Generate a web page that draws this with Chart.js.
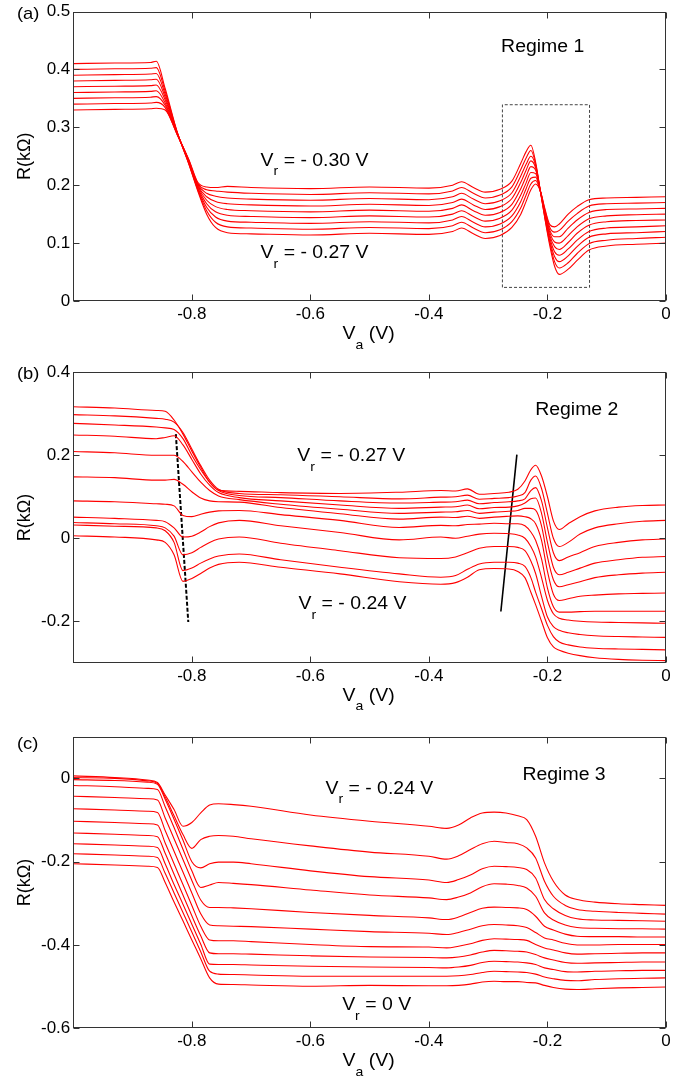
<!DOCTYPE html>
<html lang="en">

<head>
    <meta charset="UTF-8">
    <title>R vs Va - Regimes 1, 2, 3</title>
    <script src="https://cdn.jsdelivr.net/npm/chart.js"></script>
    <style>
        body {
            margin: 0;
            background: #fff;
        }

        .panel {
            position: absolute;
            left: 0;
            width: 693px;
        }
    </style>
</head>

<body>
    <div class="panel" style="top:0px;height:355px"><canvas id="chartA" width="693" height="355"></canvas></div>
    <div class="panel" style="top:355px;height:360px"><canvas id="chartB" width="693" height="360"></canvas></div>
    <div class="panel" style="top:715px;height:364px"><canvas id="chartC" width="693" height="364"></canvas></div>

    <script>
        // ---- shared axis ----
        const xTicks = [-0.8, -0.6, -0.4, -0.2, 0];

        // ---- panel (a), Regime 1 ----
        const xA = [-1, -0.93, -0.87, -0.86, -0.845, -0.825, -0.805, -0.79, -0.775, -0.76, -0.74, -0.7, -0.6, -0.5, -0.4, -0.36, -0.345, -0.325, -0.305, -0.28, -0.26, -0.245, -0.236, -0.228, -0.22, -0.212, -0.204, -0.196, -0.188, -0.18, -0.165, -0.15, -0.13, -0.1, -0.05, 0];
        const yTicksA = [0, 0.1, 0.2, 0.3, 0.4, 0.5];
        const rA0 = [0.410, 0.411, 0.412, 0.414, 0.367, 0.293, 0.236, 0.190, 0.150, 0.127, 0.118, 0.116, 0.114, 0.117, 0.115, 0.120, 0.126, 0.116, 0.108, 0.113, 0.127, 0.150, 0.172, 0.192, 0.202, 0.190, 0.158, 0.132, 0.128, 0.133, 0.150, 0.163, 0.175, 0.178, 0.179, 0.180];
        const rA1 = [0.400, 0.401, 0.402, 0.403, 0.362, 0.292, 0.237, 0.192, 0.156, 0.136, 0.128, 0.126, 0.124, 0.127, 0.125, 0.130, 0.136, 0.126, 0.118, 0.123, 0.137, 0.161, 0.183, 0.202, 0.208, 0.190, 0.156, 0.127, 0.119, 0.122, 0.138, 0.151, 0.164, 0.168, 0.169, 0.170];
        const rA2 = [0.390, 0.391, 0.392, 0.393, 0.357, 0.292, 0.238, 0.194, 0.162, 0.145, 0.138, 0.136, 0.134, 0.137, 0.135, 0.140, 0.146, 0.136, 0.128, 0.133, 0.147, 0.172, 0.194, 0.212, 0.214, 0.190, 0.153, 0.122, 0.111, 0.111, 0.126, 0.140, 0.153, 0.158, 0.159, 0.160];
        const rA3 = [0.380, 0.381, 0.382, 0.383, 0.352, 0.291, 0.239, 0.196, 0.168, 0.154, 0.148, 0.146, 0.144, 0.147, 0.145, 0.150, 0.156, 0.146, 0.138, 0.143, 0.157, 0.183, 0.204, 0.222, 0.220, 0.190, 0.151, 0.118, 0.102, 0.100, 0.113, 0.128, 0.142, 0.147, 0.149, 0.150];
        const rA4 = [0.370, 0.371, 0.372, 0.373, 0.347, 0.291, 0.240, 0.198, 0.174, 0.163, 0.158, 0.156, 0.154, 0.157, 0.155, 0.160, 0.166, 0.156, 0.148, 0.153, 0.167, 0.194, 0.215, 0.232, 0.226, 0.190, 0.149, 0.113, 0.094, 0.089, 0.101, 0.117, 0.131, 0.137, 0.139, 0.140];
        const rA5 = [0.360, 0.361, 0.362, 0.363, 0.342, 0.290, 0.241, 0.199, 0.180, 0.172, 0.168, 0.166, 0.164, 0.167, 0.165, 0.170, 0.176, 0.166, 0.158, 0.163, 0.177, 0.205, 0.226, 0.242, 0.230, 0.190, 0.147, 0.109, 0.085, 0.079, 0.090, 0.105, 0.120, 0.126, 0.128, 0.130];
        const rA6 = [0.350, 0.351, 0.352, 0.353, 0.338, 0.289, 0.242, 0.201, 0.186, 0.181, 0.178, 0.176, 0.174, 0.177, 0.175, 0.180, 0.186, 0.176, 0.168, 0.173, 0.187, 0.216, 0.236, 0.250, 0.234, 0.190, 0.145, 0.104, 0.077, 0.068, 0.078, 0.094, 0.110, 0.116, 0.118, 0.120];
        const rA7 = [0.340, 0.341, 0.342, 0.343, 0.334, 0.288, 0.243, 0.203, 0.192, 0.190, 0.188, 0.186, 0.184, 0.187, 0.185, 0.190, 0.196, 0.186, 0.178, 0.183, 0.197, 0.227, 0.247, 0.260, 0.237, 0.190, 0.142, 0.100, 0.068, 0.057, 0.066, 0.082, 0.099, 0.105, 0.108, 0.110];
        const rA8 = [0.330, 0.331, 0.332, 0.333, 0.330, 0.288, 0.244, 0.205, 0.197, 0.196, 0.198, 0.196, 0.194, 0.197, 0.195, 0.200, 0.206, 0.196, 0.188, 0.193, 0.207, 0.238, 0.258, 0.269, 0.240, 0.190, 0.140, 0.095, 0.060, 0.046, 0.055, 0.070, 0.088, 0.095, 0.098, 0.100];
        // dashed box round the -0.2 V feature
        const boxAx = [-0.276, -0.276, -0.129, -0.129, -0.276];
        const boxAy = [0.0235, 0.339, 0.339, 0.0235, 0.0235];

        // ---- panel (b), Regime 2 ----
        const xB = [-1, -0.93, -0.86, -0.845, -0.83, -0.815, -0.8, -0.785, -0.77, -0.755, -0.72, -0.65, -0.55, -0.45, -0.38, -0.355, -0.335, -0.315, -0.29, -0.265, -0.25, -0.238, -0.228, -0.22, -0.21, -0.2, -0.19, -0.18, -0.165, -0.145, -0.12, -0.08, -0.04, 0];
        const yTicksB = [-0.2, 0, 0.2, 0.4];
        const rB0 = [0.317, 0.314, 0.308, 0.306, 0.285, 0.251, 0.210, 0.171, 0.135, 0.116, 0.113, 0.110, 0.108, 0.111, 0.115, 0.114, 0.119, 0.106, 0.108, 0.111, 0.118, 0.138, 0.165, 0.176, 0.150, 0.100, 0.042, 0.021, 0.035, 0.052, 0.066, 0.075, 0.079, 0.080];
        const rB1 = [0.298, 0.295, 0.289, 0.287, 0.280, 0.255, 0.215, 0.175, 0.140, 0.118, 0.108, 0.105, 0.100, 0.095, 0.099, 0.100, 0.104, 0.094, 0.096, 0.098, 0.102, 0.110, 0.140, 0.150, 0.120, 0.060, 0.000, -0.020, -0.010, 0.010, 0.025, 0.035, 0.041, 0.043];
        const rB2 = [0.277, 0.273, 0.268, 0.266, 0.262, 0.240, 0.200, 0.165, 0.135, 0.115, 0.103, 0.098, 0.090, 0.085, 0.087, 0.088, 0.092, 0.083, 0.086, 0.088, 0.090, 0.095, 0.115, 0.122, 0.090, 0.025, -0.035, -0.054, -0.045, -0.035, -0.020, -0.010, -0.004, -0.002];
        const rB3 = [0.249, 0.246, 0.240, 0.243, 0.247, 0.225, 0.190, 0.155, 0.128, 0.110, 0.098, 0.090, 0.080, 0.072, 0.075, 0.076, 0.080, 0.071, 0.074, 0.075, 0.078, 0.085, 0.095, 0.097, 0.060, -0.010, -0.070, -0.088, -0.082, -0.072, -0.060, -0.052, -0.046, -0.044];
        const rB4 = [0.209, 0.206, 0.200, 0.200, 0.200, 0.185, 0.160, 0.135, 0.115, 0.102, 0.093, 0.082, 0.070, 0.060, 0.063, 0.064, 0.067, 0.060, 0.063, 0.065, 0.067, 0.072, 0.072, 0.068, 0.030, -0.045, -0.100, -0.117, -0.112, -0.105, -0.095, -0.088, -0.084, -0.082];
        const rB5 = [0.148, 0.146, 0.140, 0.140, 0.142, 0.130, 0.112, 0.097, 0.090, 0.088, 0.087, 0.074, 0.059, 0.046, 0.051, 0.050, 0.053, 0.048, 0.051, 0.053, 0.054, 0.052, 0.047, 0.035, -0.005, -0.080, -0.135, -0.150, -0.146, -0.140, -0.137, -0.134, -0.133, -0.132];
        const rB6 = [0.090, 0.088, 0.083, 0.082, 0.078, 0.055, 0.052, 0.058, 0.063, 0.066, 0.067, 0.057, 0.043, 0.026, 0.031, 0.030, 0.033, 0.034, 0.036, 0.035, 0.035, 0.030, 0.015, -0.005, -0.050, -0.120, -0.165, -0.178, -0.178, -0.177, -0.176, -0.176, -0.176, -0.176];
        const rB7 = [0.051, 0.048, 0.043, 0.040, 0.025, 0.003, 0.005, 0.015, 0.028, 0.037, 0.043, 0.030, 0.014, -0.004, 0.003, 0.000, 0.005, 0.010, 0.012, 0.011, 0.008, 0.000, -0.020, -0.045, -0.095, -0.150, -0.182, -0.193, -0.197, -0.200, -0.202, -0.203, -0.204, -0.205];
        const rB8 = [0.038, 0.035, 0.030, 0.025, 0.005, -0.040, -0.035, -0.022, -0.010, -0.002, 0.003, -0.012, -0.030, -0.047, -0.049, -0.045, -0.035, -0.024, -0.020, -0.020, -0.022, -0.030, -0.055, -0.085, -0.140, -0.190, -0.213, -0.222, -0.228, -0.232, -0.235, -0.237, -0.238, -0.239];
        const rB9 = [0.032, 0.029, 0.025, 0.018, -0.010, -0.078, -0.072, -0.060, -0.050, -0.043, -0.038, -0.052, -0.070, -0.086, -0.094, -0.090, -0.075, -0.062, -0.058, -0.058, -0.060, -0.068, -0.095, -0.130, -0.170, -0.210, -0.237, -0.250, -0.257, -0.262, -0.265, -0.267, -0.268, -0.269];
        const rB10 = [0.006, 0.003, -0.004, -0.010, -0.040, -0.104, -0.097, -0.085, -0.072, -0.063, -0.058, -0.070, -0.086, -0.105, -0.111, -0.107, -0.094, -0.076, -0.073, -0.074, -0.080, -0.095, -0.130, -0.160, -0.200, -0.240, -0.262, -0.270, -0.277, -0.283, -0.288, -0.292, -0.294, -0.295];
        // guide lines through the dips (dashed) and the rise (solid)
        const dashBx = [-0.827, -0.806];
        const dashBy = [0.251, -0.202];
        const solidBx = [-0.2786, -0.2516];
        const solidBy = [-0.1766, 0.2017];

        // ---- panel (c), Regime 3 ----
        const xC = [-1, -0.93, -0.875, -0.858, -0.845, -0.83, -0.815, -0.8, -0.785, -0.77, -0.755, -0.73, -0.7, -0.6, -0.5, -0.4, -0.37, -0.35, -0.33, -0.31, -0.29, -0.27, -0.25, -0.235, -0.22, -0.205, -0.19, -0.17, -0.15, -0.12, -0.08, -0.04, 0];
        const yTicksC = [-0.6, -0.4, -0.2, 0];
        const rC0 = [0.006, 0.002, -0.004, -0.010, -0.040, -0.075, -0.115, -0.106, -0.083, -0.064, -0.061, -0.063, -0.067, -0.088, -0.103, -0.115, -0.120, -0.112, -0.095, -0.083, -0.081, -0.083, -0.090, -0.099, -0.139, -0.203, -0.247, -0.280, -0.291, -0.297, -0.301, -0.303, -0.305];
        const rC1 = [0.002, 0.000, -0.006, -0.012, -0.045, -0.090, -0.135, -0.168, -0.147, -0.139, -0.137, -0.139, -0.145, -0.162, -0.177, -0.187, -0.194, -0.186, -0.171, -0.157, -0.151, -0.154, -0.157, -0.167, -0.191, -0.247, -0.283, -0.305, -0.315, -0.319, -0.322, -0.324, -0.326];
        const rC2 = [-0.003, -0.005, -0.009, -0.014, -0.050, -0.098, -0.148, -0.200, -0.215, -0.205, -0.201, -0.201, -0.205, -0.222, -0.236, -0.244, -0.250, -0.243, -0.232, -0.217, -0.211, -0.212, -0.214, -0.219, -0.239, -0.291, -0.313, -0.329, -0.337, -0.340, -0.341, -0.342, -0.343];
        const rC3 = [-0.017, -0.020, -0.024, -0.027, -0.068, -0.118, -0.170, -0.222, -0.262, -0.256, -0.250, -0.252, -0.255, -0.268, -0.280, -0.287, -0.291, -0.285, -0.275, -0.260, -0.253, -0.254, -0.257, -0.263, -0.283, -0.323, -0.340, -0.352, -0.358, -0.360, -0.361, -0.361, -0.362];
        const rC4 = [-0.043, -0.046, -0.049, -0.052, -0.095, -0.145, -0.195, -0.245, -0.292, -0.310, -0.310, -0.311, -0.313, -0.322, -0.329, -0.335, -0.339, -0.333, -0.322, -0.312, -0.309, -0.310, -0.311, -0.315, -0.331, -0.355, -0.364, -0.374, -0.379, -0.380, -0.380, -0.381, -0.381];
        const rC5 = [-0.073, -0.076, -0.079, -0.082, -0.125, -0.175, -0.225, -0.275, -0.325, -0.352, -0.354, -0.355, -0.356, -0.362, -0.368, -0.372, -0.375, -0.370, -0.362, -0.354, -0.351, -0.352, -0.354, -0.358, -0.370, -0.383, -0.388, -0.396, -0.400, -0.400, -0.399, -0.399, -0.399];
        const rC6 = [-0.103, -0.106, -0.109, -0.112, -0.155, -0.205, -0.255, -0.305, -0.355, -0.388, -0.390, -0.390, -0.392, -0.399, -0.404, -0.405, -0.407, -0.403, -0.397, -0.389, -0.385, -0.386, -0.387, -0.389, -0.399, -0.407, -0.412, -0.419, -0.422, -0.421, -0.420, -0.419, -0.419];
        const rC7 = [-0.131, -0.134, -0.137, -0.140, -0.180, -0.230, -0.280, -0.330, -0.378, -0.419, -0.421, -0.421, -0.422, -0.426, -0.429, -0.430, -0.431, -0.429, -0.424, -0.417, -0.413, -0.414, -0.415, -0.417, -0.423, -0.431, -0.436, -0.442, -0.444, -0.443, -0.442, -0.441, -0.441];
        const rC8 = [-0.157, -0.160, -0.163, -0.166, -0.205, -0.255, -0.302, -0.350, -0.398, -0.446, -0.447, -0.447, -0.448, -0.451, -0.453, -0.454, -0.455, -0.453, -0.449, -0.442, -0.439, -0.440, -0.441, -0.443, -0.447, -0.455, -0.459, -0.464, -0.465, -0.463, -0.462, -0.461, -0.461];
        const rC9 = [-0.181, -0.184, -0.187, -0.190, -0.228, -0.275, -0.322, -0.369, -0.416, -0.463, -0.470, -0.471, -0.472, -0.475, -0.475, -0.475, -0.475, -0.474, -0.471, -0.466, -0.463, -0.464, -0.465, -0.466, -0.470, -0.477, -0.481, -0.485, -0.486, -0.483, -0.481, -0.480, -0.479];
        const rC10 = [-0.205, -0.208, -0.211, -0.214, -0.250, -0.297, -0.342, -0.388, -0.433, -0.479, -0.494, -0.495, -0.496, -0.499, -0.497, -0.498, -0.498, -0.497, -0.494, -0.489, -0.487, -0.488, -0.488, -0.490, -0.491, -0.497, -0.502, -0.506, -0.507, -0.505, -0.503, -0.502, -0.501];

        const FONT = "'Liberation Sans', Arial, sans-serif";
        const STRETCH = 1.08; // the source figure's text is a little wide
        Chart.defaults.font.family = FONT;

        // Draw a run of text pieces [text, size, dy] starting at x (or centred on x)
        function drawParts(ctx, parts, x, y, center) {
            ctx.save();
            ctx.textAlign = 'left';
            ctx.textBaseline = 'middle';
            ctx.fillStyle = '#000';
            const widths = parts.map(p => {
                ctx.font = p[1] + 'px ' + FONT;
                return ctx.measureText(p[0]).width;
            });
            const total = widths.reduce((s, w) => s + w, 0) * STRETCH;
            ctx.translate(center ? x - total / 2 : x, y);
            ctx.scale(STRETCH, 1);
            let off = 0;
            parts.forEach((p, i) => {
                ctx.font = p[1] + 'px ' + FONT;
                ctx.fillText(p[0], off, p[2]);
                off += widths[i];
            });
            ctx.restore();
        }

        // Box, inward tick marks, axis titles and notes, MATLAB style
        const figurePlugin = {
            id: 'figure',
            afterDraw(chart, args, opts) {
                const { ctx, chartArea: a, scales } = chart;
                const xs = scales.x, ys = scales.y;
                const L = Math.round(a.left) + 0.5, R = Math.round(a.right) - 0.5;
                const T = Math.round(a.top) + 0.5, B = Math.round(a.bottom) - 0.5;
                ctx.save();
                ctx.strokeStyle = '#333';
                ctx.lineWidth = 1;
                ctx.strokeRect(L, T, R - L, B - T);
                ctx.beginPath();
                xs.ticks.forEach(t => {
                    const px = Math.round(xs.getPixelForValue(t.value)) + 0.5;
                    ctx.moveTo(px, B); ctx.lineTo(px, B - 6);
                    ctx.moveTo(px, T); ctx.lineTo(px, T + 6);
                });
                ys.ticks.forEach(t => {
                    const py = Math.round(ys.getPixelForValue(t.value)) + 0.5;
                    ctx.moveTo(L, py); ctx.lineTo(L + 6, py);
                    ctx.moveTo(R, py); ctx.lineTo(R - 6, py);
                });
                ctx.stroke();
                ctx.restore();

                // panel letter
                drawParts(ctx, [[opts.letter, 17, 0]], 17, a.top + opts.letterDy, false);

                // y title, rotated
                ctx.save();
                ctx.translate(25.5, (a.top + a.bottom) / 2);
                ctx.rotate(-Math.PI / 2);
                ctx.fillStyle = '#000';
                ctx.font = '18px ' + FONT;
                ctx.textAlign = 'center';
                ctx.textBaseline = 'middle';
                ctx.fillText('R(kΩ)', 0, 0);
                ctx.restore();

                // x title
                drawParts(ctx, [['V', 18, 0], ['a', 13, 11], [' (V)', 18, 0]], (a.left + a.right) / 2 - 1, a.bottom + 33, true);

                // notes placed at data coordinates
                opts.notes.forEach(n => {
                    drawParts(ctx, n.parts, xs.getPixelForValue(n.x), ys.getPixelForValue(n.y), n.center);
                });
            }
        };

        function curveSets(xs, rows) {
            return rows.map(r => ({
                data: xs.map((x, i) => ({ x: x, y: r[i] })),
                borderColor: '#ff0000',
                borderWidth: 1.1,
                pointRadius: 0,
                cubicInterpolationMode: 'monotone',
                fill: false
            }));
        }

        function shapeSet(xs, ys, color, width, dash) {
            return {
                data: xs.map((x, i) => ({ x: x, y: ys[i] })),
                borderColor: color,
                borderWidth: width,
                borderDash: dash,
                pointRadius: 0,
                tension: 0,
                fill: false
            };
        }

        function vrNote(value, x, y) {
            return { parts: [['V', 18, 0], ['r', 13, 11], [' = ' + value, 18, 0]], x: x, y: y, center: false };
        }

        function makeChart(id, cfg) {
            return new Chart(document.getElementById(id), {
                type: 'line',
                data: { datasets: cfg.datasets },
                options: {
                    responsive: false,
                    devicePixelRatio: 1,
                    animation: false,
                    events: [],
                    layout: { padding: { top: cfg.padTop, right: 27, left: 0, bottom: 0 } },
                    plugins: {
                        legend: { display: false },
                        tooltip: { enabled: false },
                        figure: { letter: cfg.letter, letterDy: cfg.letterDy, notes: cfg.notes }
                    },
                    scales: {
                        x: {
                            type: 'linear',
                            min: -1,
                            max: 0,
                            grid: { display: false, drawTicks: false },
                            border: { display: false },
                            afterBuildTicks: s => { s.ticks = xTicks.map(v => ({ value: v })); },
                            afterFit: s => { s.height = cfg.xHeight; },
                            ticks: {
                                color: '#000',
                                padding: 5,
                                maxRotation: 0,
                                font: { size: 17, lineHeight: 1 },
                                callback: v => String(Math.round(v * 10) / 10)
                            }
                        },
                        y: {
                            type: 'linear',
                            min: cfg.yMin,
                            max: cfg.yMax,
                            grid: { display: false, drawTicks: false },
                            border: { display: false },
                            afterBuildTicks: s => { s.ticks = cfg.yTicks.map(v => ({ value: v })); },
                            afterFit: s => { s.width = 73.3; },
                            ticks: {
                                color: '#000',
                                padding: 3,
                                font: { size: 17, lineHeight: 1 },
                                callback: v => String(Math.round(v * 10) / 10)
                            }
                        }
                    }
                },
                plugins: [figurePlugin]
            });
        }

        makeChart('chartA', {
            letter: '(a)', letterDy: 3, padTop: 9.3, xHeight: 54,
            yMin: 0, yMax: 0.5, yTicks: yTicksA,
            datasets: curveSets(xA, [rA0, rA1, rA2, rA3, rA4, rA5, rA6, rA7, rA8])
                .concat([shapeSet(boxAx, boxAy, '#444', 1, [3, 2])]),
            notes: [
                { parts: [['Regime 1', 18, 0]], x: -0.208, y: 0.439, center: true },
                vrNote('- 0.30 V', -0.684, 0.2425),
                vrNote('- 0.27 V', -0.684, 0.083)
            ]
        });

        makeChart('chartB', {
            letter: '(b)', letterDy: 2, padTop: 17.3, xHeight: 52.3,
            yMin: -0.3, yMax: 0.4, yTicks: yTicksB,
            datasets: curveSets(xB, [rB0, rB1, rB2, rB3, rB4, rB5, rB6, rB7, rB8, rB9, rB10])
                .concat([
                    shapeSet(dashBx, dashBy, '#000', 2, [4, 2]),
                    shapeSet(solidBx, solidBy, '#000', 1.6, [])
                ]),
            notes: [
                { parts: [['Regime 2', 18, 0]], x: -0.1505, y: 0.308, center: true },
                vrNote('- 0.27 V', -0.622, 0.197),
                vrNote('- 0.24 V', -0.620, -0.1586)
            ]
        });

        makeChart('chartC', {
            letter: '(c)', letterDy: 8, padTop: 21.7, xHeight: 50.7,
            yMin: -0.6, yMax: 0.1, yTicks: yTicksC,
            datasets: curveSets(xC, [rC0, rC1, rC2, rC3, rC4, rC5, rC6, rC7, rC8, rC9, rC10]),
            notes: [
                { parts: [['Regime 3', 18, 0]], x: -0.172, y: 0.009, center: true },
                vrNote('- 0.24 V', -0.5746, -0.025),
                vrNote('0 V', -0.5464, -0.544)
            ]
        });
    </script>
</body>

</html>
